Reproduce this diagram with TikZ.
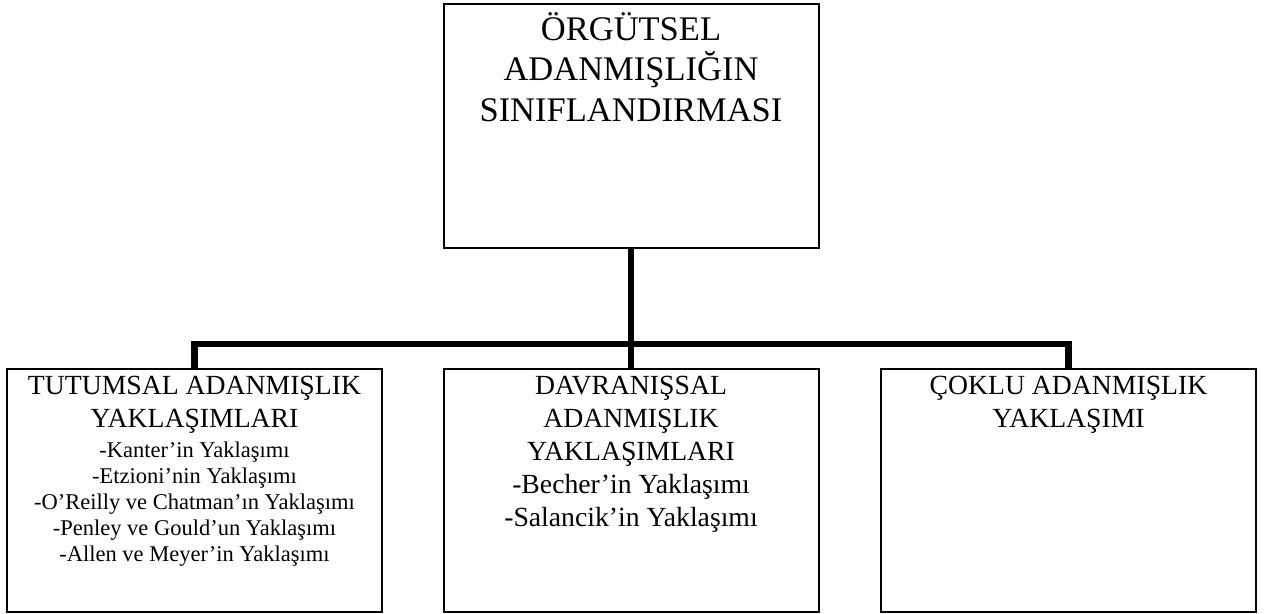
\documentclass[tikz,border=0pt]{standalone}
\usepackage{fontspec}
\setmainfont{Liberation Serif}
\usetikzlibrary{positioning}
\tikzset{
  kutu/.style={draw, line width=1pt, inner sep=0pt, minimum width=187.5pt},
  baglanti/.style={line width=3.2pt},
  baslik/.style={align=center, inner sep=0pt, anchor=north, font=\fontsize{13.85}{16.5}\selectfont},
}
\begin{document}
\begin{tikzpicture}[x=0.5pt, y=-0.5pt]
    \useasboundingbox (0,0) rectangle (1269,614);

    % Kutular
    \node[kutu, minimum height=122pt] (ust) at (631,126) {};
    \node[kutu, minimum height=121.5pt] (tutum) at (194.5,490.5) {};
    \node[kutu, minimum height=121.5pt] (davranis) at (631,490.5) {};
    \node[kutu, minimum height=121.5pt] (coklu) at (1068.5,490.5) {};

    % Metinler
    \node[baslik, font=\fontsize{17.25}{20.25}\selectfont] (usttext) at ([yshift=-4.5pt]ust.north)
        {ÖRGÜTSEL\\ADANMIŞLIĞIN\\SINIFLANDIRMASI};
    \node[baslik] (tutumtext) at ([yshift=-3.8pt]tutum.north) {TUTUMSAL ADANMIŞLIK\\YAKLAŞIMLARI};
    \node[baslik, font=\fontsize{11.25}{13}\selectfont, below=4pt of tutumtext] (tutumlist)
        {-Kanter’in Yaklaşımı\\-Etzioni’nin Yaklaşımı\\-O’Reilly ve Chatman’ın Yaklaşımı\\-Penley ve Gould’un Yaklaşımı\\-Allen ve Meyer’in Yaklaşımı};
    \node[baslik] (davranistext) at ([yshift=-3.8pt]davranis.north)
        {DAVRANIŞSAL\\ADANMIŞLIK\\YAKLAŞIMLARI\\-Becher’in Yaklaşımı\\-Salancik’in Yaklaşımı};
    \node[baslik] (coklutext) at ([yshift=-3.8pt]coklu.north) {ÇOKLU ADANMIŞLIK\\YAKLAŞIMI};

    % Baglantilar
    \coordinate (kol) at (631,344);
    \draw[baglanti] (ust.south) -- (davranis.north);
    \draw[baglanti] (tutum.north) |- (kol) -| (coklu.north);
\end{tikzpicture}
\end{document}
